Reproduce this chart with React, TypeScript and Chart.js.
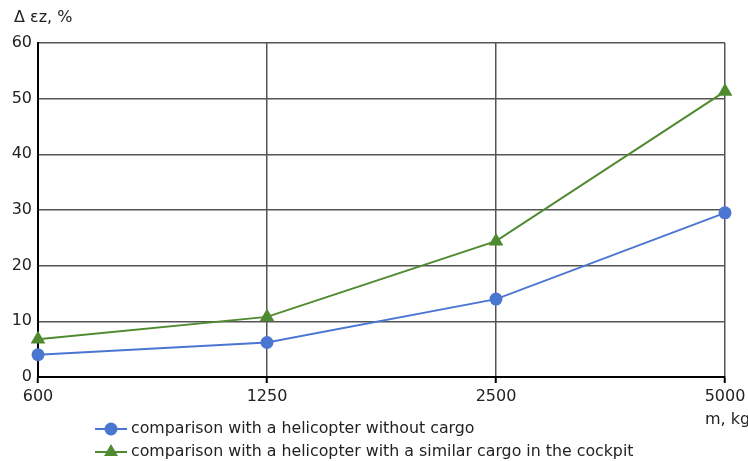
import React, { useEffect, useRef } from "react";
import { Chart, registerables } from "chart.js";

Chart.register(...registerables);

const massLabels = ["600", "1250", "2500", "5000"];
const withoutCargo = [4, 6.2, 14, 29.5];
const similarCargo = [6.8, 10.8, 24.4, 51.3];
const yTicks = [0, 10, 20, 30, 40, 50, 60];
const seriesNames = [
  "comparison with a helicopter without cargo",
  "comparison with a helicopter with a similar cargo in the cockpit",
];
const yTitle = "Δ εz, %";
const xTitle = "m, kg";

const BLUE = "#4a76d2";
const GREEN = "#4f8a30";
const TEXT = "#222222";
const FONT = "DejaVu Sans";
const FONT_SIZE = 16;
const LEGEND_SIZE = 15.8;

const annotations = {
  id: "annotations",
  afterDraw(chart: any) {
    const ctx = chart.ctx;
    ctx.save();
    ctx.font = `${FONT_SIZE}px "${FONT}"`;
    ctx.fillStyle = TEXT;
    ctx.textBaseline = "middle";
    ctx.textAlign = "left";
    ctx.fillText(yTitle, 14, 18);
    ctx.fillText(xTitle, 705, 420);

    // legend rows: line sample with marker, then label
    ctx.font = `${LEGEND_SIZE}px "${FONT}"`;
    const rows = [
      { y: 429, color: BLUE, style: "circle", r: 6.5, text: seriesNames[0] },
      { y: 452, color: GREEN, style: "triangle", r: 8, text: seriesNames[1] },
    ];
    for (const row of rows) {
      ctx.strokeStyle = row.color;
      ctx.lineWidth = 2;
      ctx.beginPath();
      ctx.moveTo(95, row.y);
      ctx.lineTo(127, row.y);
      ctx.stroke();
      ctx.fillStyle = row.color;
      ctx.beginPath();
      if (row.style === "circle") {
        ctx.arc(111, row.y, row.r, 0, Math.PI * 2);
      } else {
        const h = row.r;
        ctx.moveTo(111, row.y - h);
        ctx.lineTo(111 + h * 0.866, row.y + h / 2);
        ctx.lineTo(111 - h * 0.866, row.y + h / 2);
        ctx.closePath();
      }
      ctx.fill();
      ctx.fillStyle = TEXT;
      ctx.fillText(row.text, 131, row.y);
    }
    ctx.restore();
  },
};

export default function App() {
  const ref = useRef<HTMLCanvasElement | null>(null);

  useEffect(() => {
    document.body.style.margin = "0";
    const chart = new Chart(ref.current as HTMLCanvasElement, {
      type: "line",
      data: {
        labels: massLabels,
        datasets: [
          {
            label: seriesNames[0],
            data: withoutCargo,
            borderColor: BLUE,
            backgroundColor: BLUE,
            borderWidth: 1.8,
            pointStyle: "circle",
            pointRadius: 6.5,
            pointBorderWidth: 0,
            tension: 0,
          },
          {
            label: seriesNames[1],
            data: similarCargo,
            borderColor: GREEN,
            backgroundColor: GREEN,
            borderWidth: 2,
            pointStyle: "triangle",
            pointRadius: 8.5,
            pointBorderWidth: 0,
            tension: 0,
          },
        ],
      },
      options: {
        animation: false,
        responsive: false,
        clip: false as any,
        layout: { padding: { top: 43, right: 23, left: 0, bottom: 0 } },
        plugins: {
          legend: { display: false },
          tooltip: { enabled: false },
          title: { display: false },
        },
        scales: {
          x: {
            type: "category",
            offset: false,
            afterFit(scale: any) {
              scale.height = 84;
              scale.paddingLeft = 0;
              scale.paddingRight = 0;
            },
            grid: {
              color: "#555",
              lineWidth: 1.5,
              drawTicks: true,
              tickLength: 6,
              tickColor: "#000",
              tickWidth: 2,
            },
            border: { color: "#000", width: 2 },
            ticks: {
              color: TEXT,
              font: { family: FONT, size: FONT_SIZE },
              padding: 4,
              maxRotation: 0,
            },
          },
          y: {
            min: 0,
            max: 60,
            afterFit(scale: any) {
              scale.width = 38;
              scale.paddingTop = 0;
              scale.paddingBottom = 0;
            },
            afterBuildTicks(scale: any) {
              scale.ticks = yTicks.map((v) => ({ value: v }));
            },
            grid: { color: "#555", lineWidth: 1.5, drawTicks: false },
            border: { color: "#000", width: 2 },
            ticks: {
              color: TEXT,
              font: { family: FONT, size: FONT_SIZE },
              padding: 6,
            },
          },
        },
      },
      plugins: [annotations],
    });
    return () => chart.destroy();
  }, []);

  return (
    <div style={{ width: 748, height: 461 }}>
      <canvas ref={ref} width={748} height={461} style={{ display: "block" }} />
    </div>
  );
}
